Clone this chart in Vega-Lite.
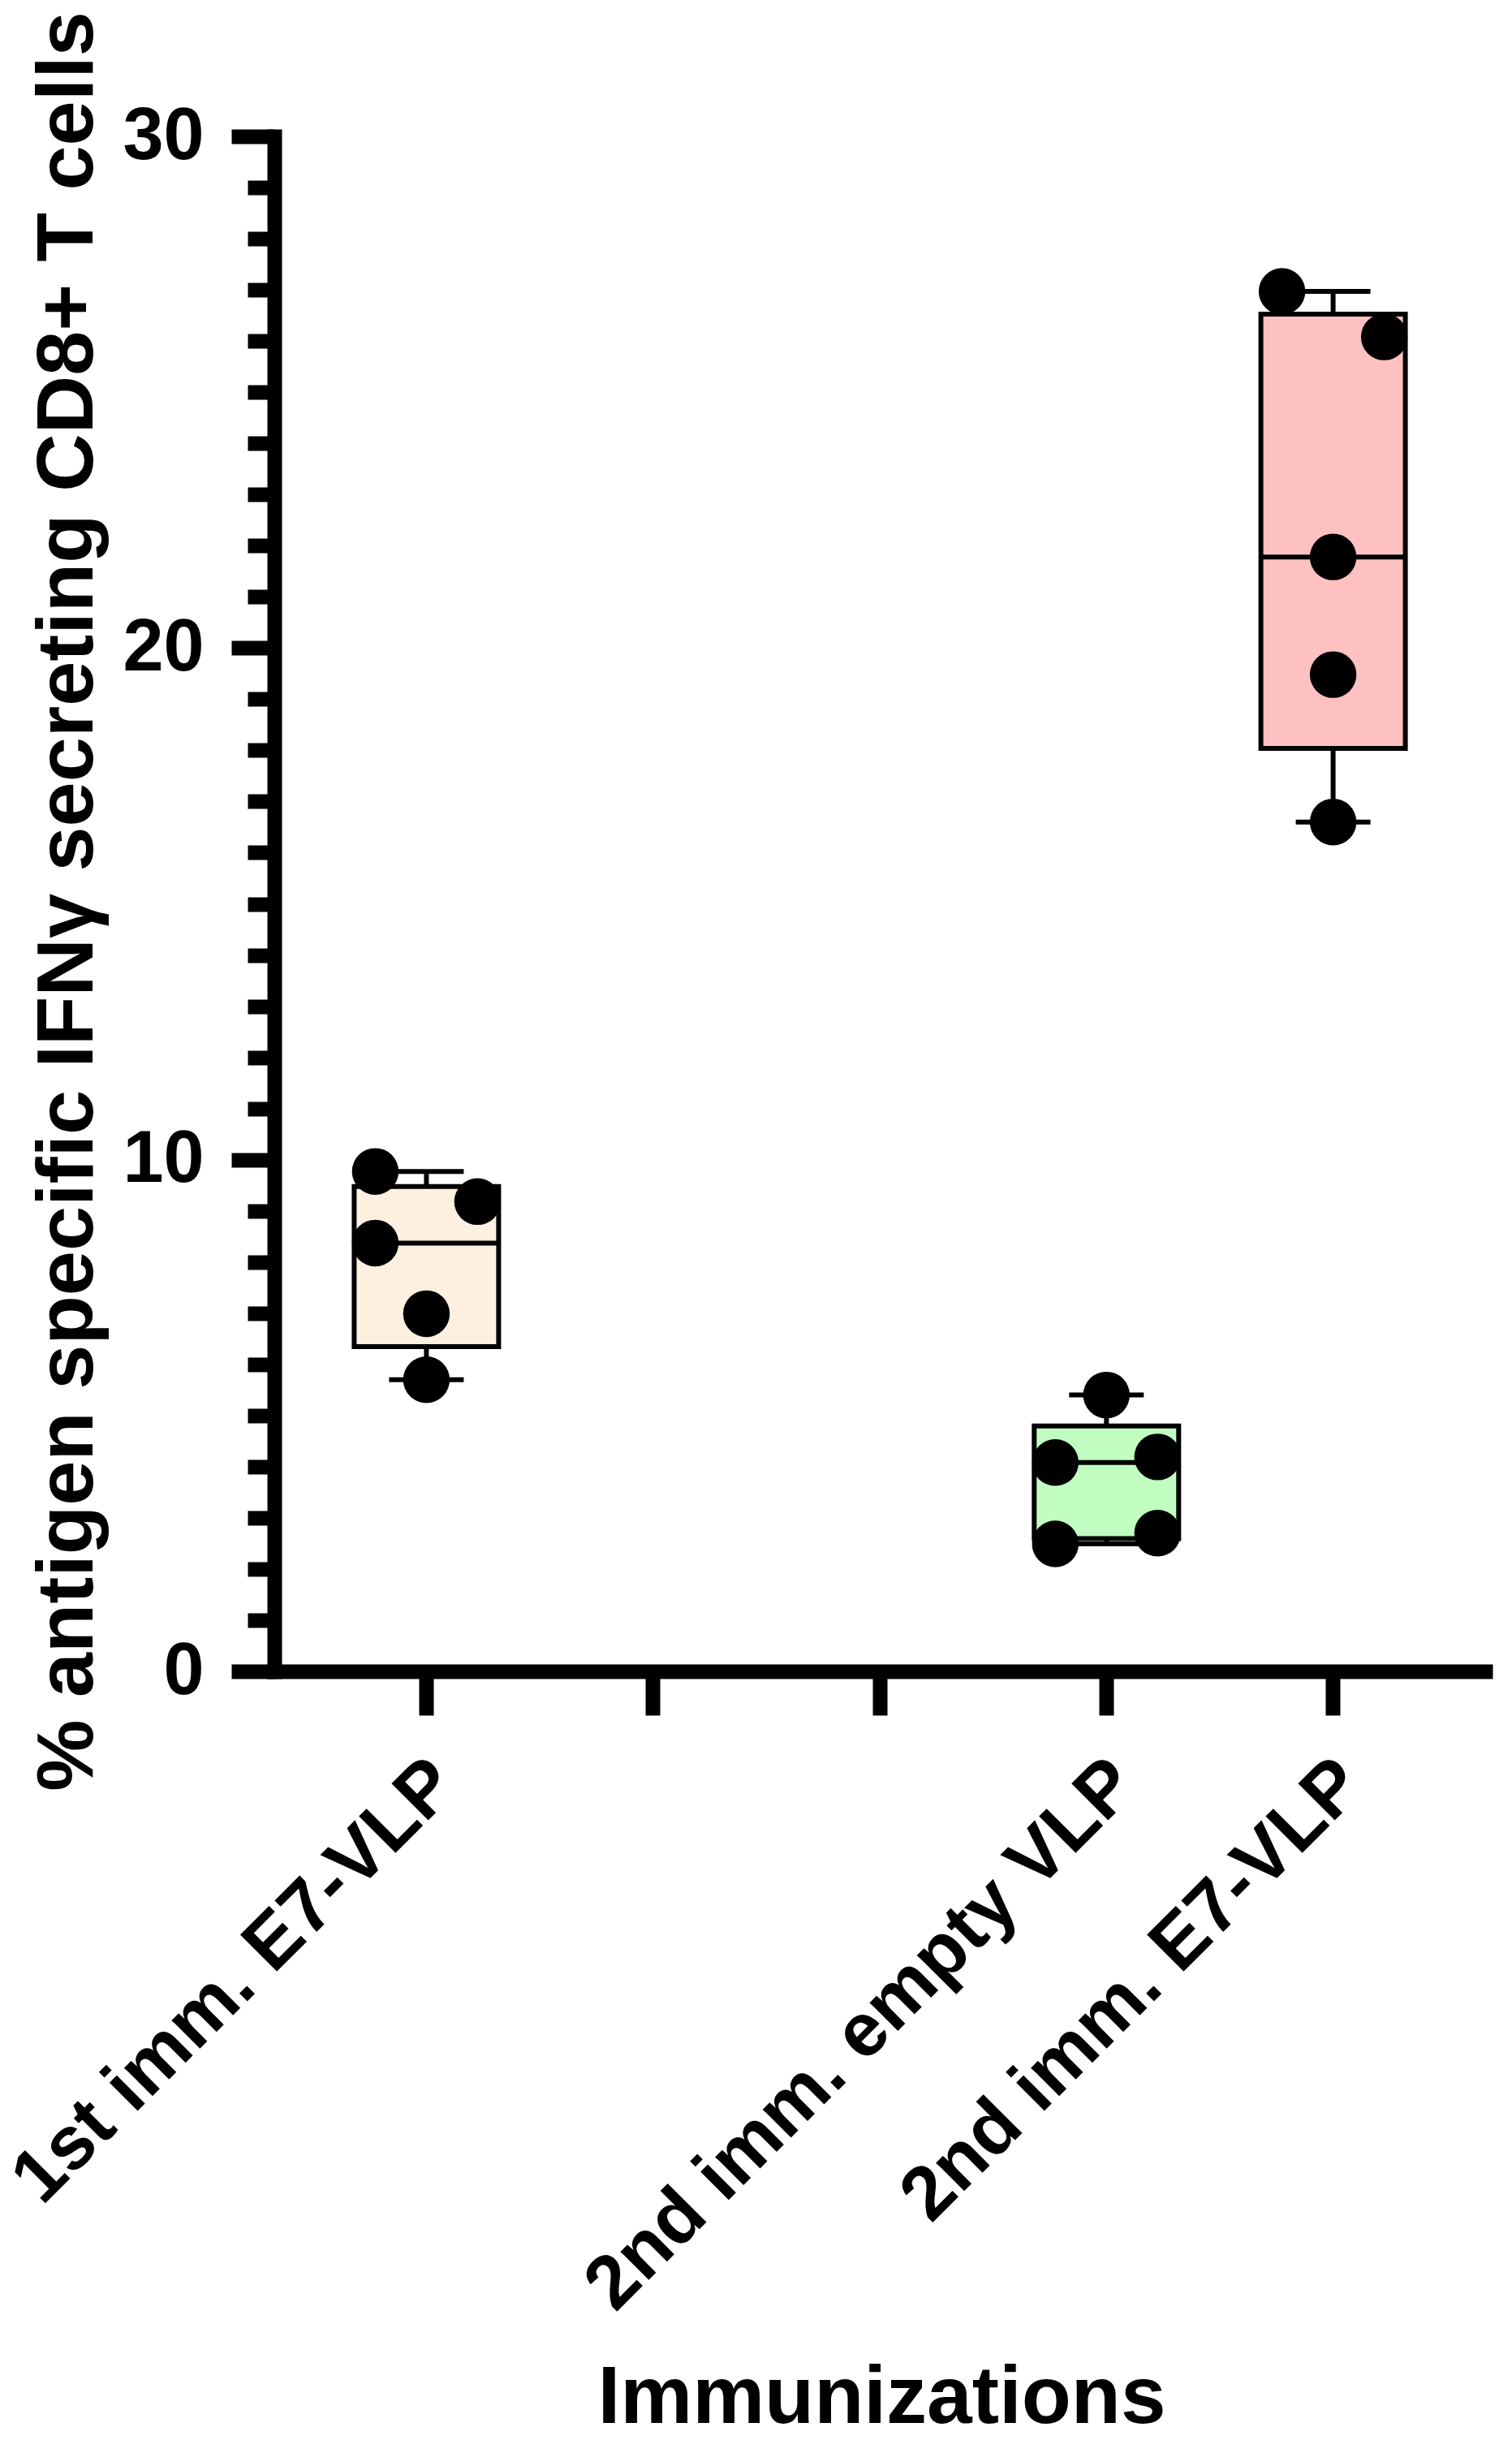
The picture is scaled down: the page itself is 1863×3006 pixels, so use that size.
{
  "$schema": "https://vega.github.io/schema/vega-lite/v6.json",
  "width": 1492,
  "height": 1891,
  "autosize": {"type": "none"},
  "padding": {"left": 338, "top": 168, "right": 33, "bottom": 947},
  "background": "white",
  "config": {"view": {"stroke": null}, "font": "Liberation Sans"},
  "datasets": {
    "pts": [
      {"group": "1st imm. E7-VLP", "col": -1, "value": 9.77},
      {"group": "1st imm. E7-VLP", "col": 1, "value": 9.18},
      {"group": "1st imm. E7-VLP", "col": -1, "value": 8.37},
      {"group": "1st imm. E7-VLP", "col": 0, "value": 6.99},
      {"group": "1st imm. E7-VLP", "col": 0, "value": 5.70},
      {"group": "2nd imm. empty VLP", "col": 0, "value": 5.40},
      {"group": "2nd imm. empty VLP", "col": -1, "value": 4.08},
      {"group": "2nd imm. empty VLP", "col": 1, "value": 4.19},
      {"group": "2nd imm. empty VLP", "col": -1, "value": 2.49},
      {"group": "2nd imm. empty VLP", "col": 1, "value": 2.70},
      {"group": "2nd imm. E7-VLP", "col": -1, "value": 26.97},
      {"group": "2nd imm. E7-VLP", "col": 1, "value": 26.08},
      {"group": "2nd imm. E7-VLP", "col": 0, "value": 21.78},
      {"group": "2nd imm. E7-VLP", "col": 0, "value": 19.48},
      {"group": "2nd imm. E7-VLP", "col": 0, "value": 16.60}
    ],
    "box": [
      {"group": "1st imm. E7-VLP", "min": 5.70, "q1": 6.345, "median": 8.37, "q3": 9.475, "max": 9.77},
      {"group": "2nd imm. empty VLP", "min": 2.49, "q1": 2.595, "median": 4.08, "q3": 4.795, "max": 5.40},
      {"group": "2nd imm. E7-VLP", "min": 16.60, "q1": 18.04, "median": 21.78, "q3": 26.525, "max": 26.97}
    ]
  },
  "encoding": {
    "x": {
      "field": "group",
      "type": "nominal",
      "scale": {
        "domain": ["1st imm. E7-VLP", "gap1", "gap2", "2nd imm. empty VLP", "2nd imm. E7-VLP"],
        "paddingInner": 0,
        "paddingOuter": 0.171
      },
      "axis": {
        "title": "Immunizations",
        "titleFontSize": 100,
        "titleFontWeight": "bold",
        "titleColor": "black",
        "titleFont": "Liberation Sans",
        "titleX": 748,
        "titleY": 925,
        "titleAlign": "center",
        "titleBaseline": "alphabetic",
        "titleAngle": 0,
        "labelExpr": "indexof(datum.value, 'gap') === 0 ? '' : datum.label",
        "labelAngle": -45,
        "labelAlign": "right",
        "labelBaseline": "top",
        "labelFontSize": 93,
        "labelFontWeight": "bold",
        "labelFont": "Liberation Sans",
        "labelColor": "black",
        "labelPadding": 38,
        "labelOffset": -10,
        "labelLimit": 0,
        "labelOverlap": false,
        "labelBound": false,
        "labelFlush": false,
        "tickSize": 54,
        "tickWidth": 18,
        "tickColor": "black",
        "bandPosition": 0.5,
        "domainWidth": 18,
        "domainColor": "black",
        "domainCap": "square",
        "grid": false
      }
    }
  },
  "layer": [
    {
      "data": {"name": "box"},
      "mark": {"type": "rule", "color": "black", "strokeWidth": 6},
      "encoding": {
        "y": {
          "field": "min",
          "type": "quantitative",
          "scale": {"domain": [0, 30], "nice": false, "zero": false},
          "axis": {
            "title": "% antigen specific IFNγ secreting CD8+ T cells",
            "titleFontSize": 99,
            "titleFontWeight": "bold",
            "titleColor": "black",
            "titleFont": "Liberation Sans",
            "titleX": -225,
            "titleY": 942,
            "titleAngle": -90,
            "titleAlign": "center",
            "titleBaseline": "alphabetic",
            "values": [0, 1, 2, 3, 4, 5, 6, 7, 8, 9, 10, 11, 12, 13, 14, 15, 16, 17, 18, 19, 20, 21, 22, 23, 24, 25, 26, 27, 28, 29, 30],
            "labelExpr": "datum.value % 10 === 0 ? format(datum.value, 'd') : ''",
            "labelFontSize": 90,
            "labelFontWeight": "bold",
            "labelFont": "Liberation Sans",
            "labelColor": "black",
            "labelPadding": 34,
            "labelAlign": "right",
            "labelBaseline": "middle",
            "labelLimit": 0,
            "labelOverlap": false,
            "labelBound": false,
            "labelFlush": false,
            "tickSize": {"condition": {"test": "datum.value % 10 === 0", "value": 53}, "value": 33},
            "tickWidth": 18,
            "tickColor": "black",
            "domainWidth": 18,
            "domainColor": "black",
            "domainCap": "square",
            "grid": false
          }
        },
        "y2": {"field": "max"}
      }
    },
    {
      "data": {"name": "box"},
      "mark": {"type": "bar", "width": 178, "stroke": "black", "strokeWidth": 6},
      "encoding": {
        "y": {"field": "q1", "type": "quantitative"},
        "y2": {"field": "q3"},
        "fill": {
          "field": "group",
          "type": "nominal",
          "scale": {
            "domain": ["1st imm. E7-VLP", "2nd imm. empty VLP", "2nd imm. E7-VLP"],
            "range": ["#FDF0E1", "#C1FDC1", "#FEC1C1"]
          },
          "legend": null
        }
      }
    },
    {
      "data": {"name": "box"},
      "mark": {"type": "tick", "color": "black", "size": 180, "thickness": 6, "opacity": 1},
      "encoding": {"y": {"field": "median", "type": "quantitative"}}
    },
    {
      "data": {"name": "box"},
      "mark": {"type": "tick", "color": "black", "size": 92, "thickness": 6, "opacity": 1},
      "encoding": {"y": {"field": "min", "type": "quantitative"}}
    },
    {
      "data": {"name": "box"},
      "mark": {"type": "tick", "color": "black", "size": 92, "thickness": 6, "opacity": 1},
      "encoding": {"y": {"field": "max", "type": "quantitative"}}
    },
    {
      "data": {"name": "pts"},
      "mark": {"type": "circle", "color": "black", "size": 3300, "opacity": 1},
      "encoding": {
        "y": {"field": "value", "type": "quantitative"},
        "xOffset": {
          "field": "col",
          "type": "quantitative",
          "scale": {"domain": [-1, 1], "range": [76.65, 202.65]}
        }
      }
    }
  ]
}
